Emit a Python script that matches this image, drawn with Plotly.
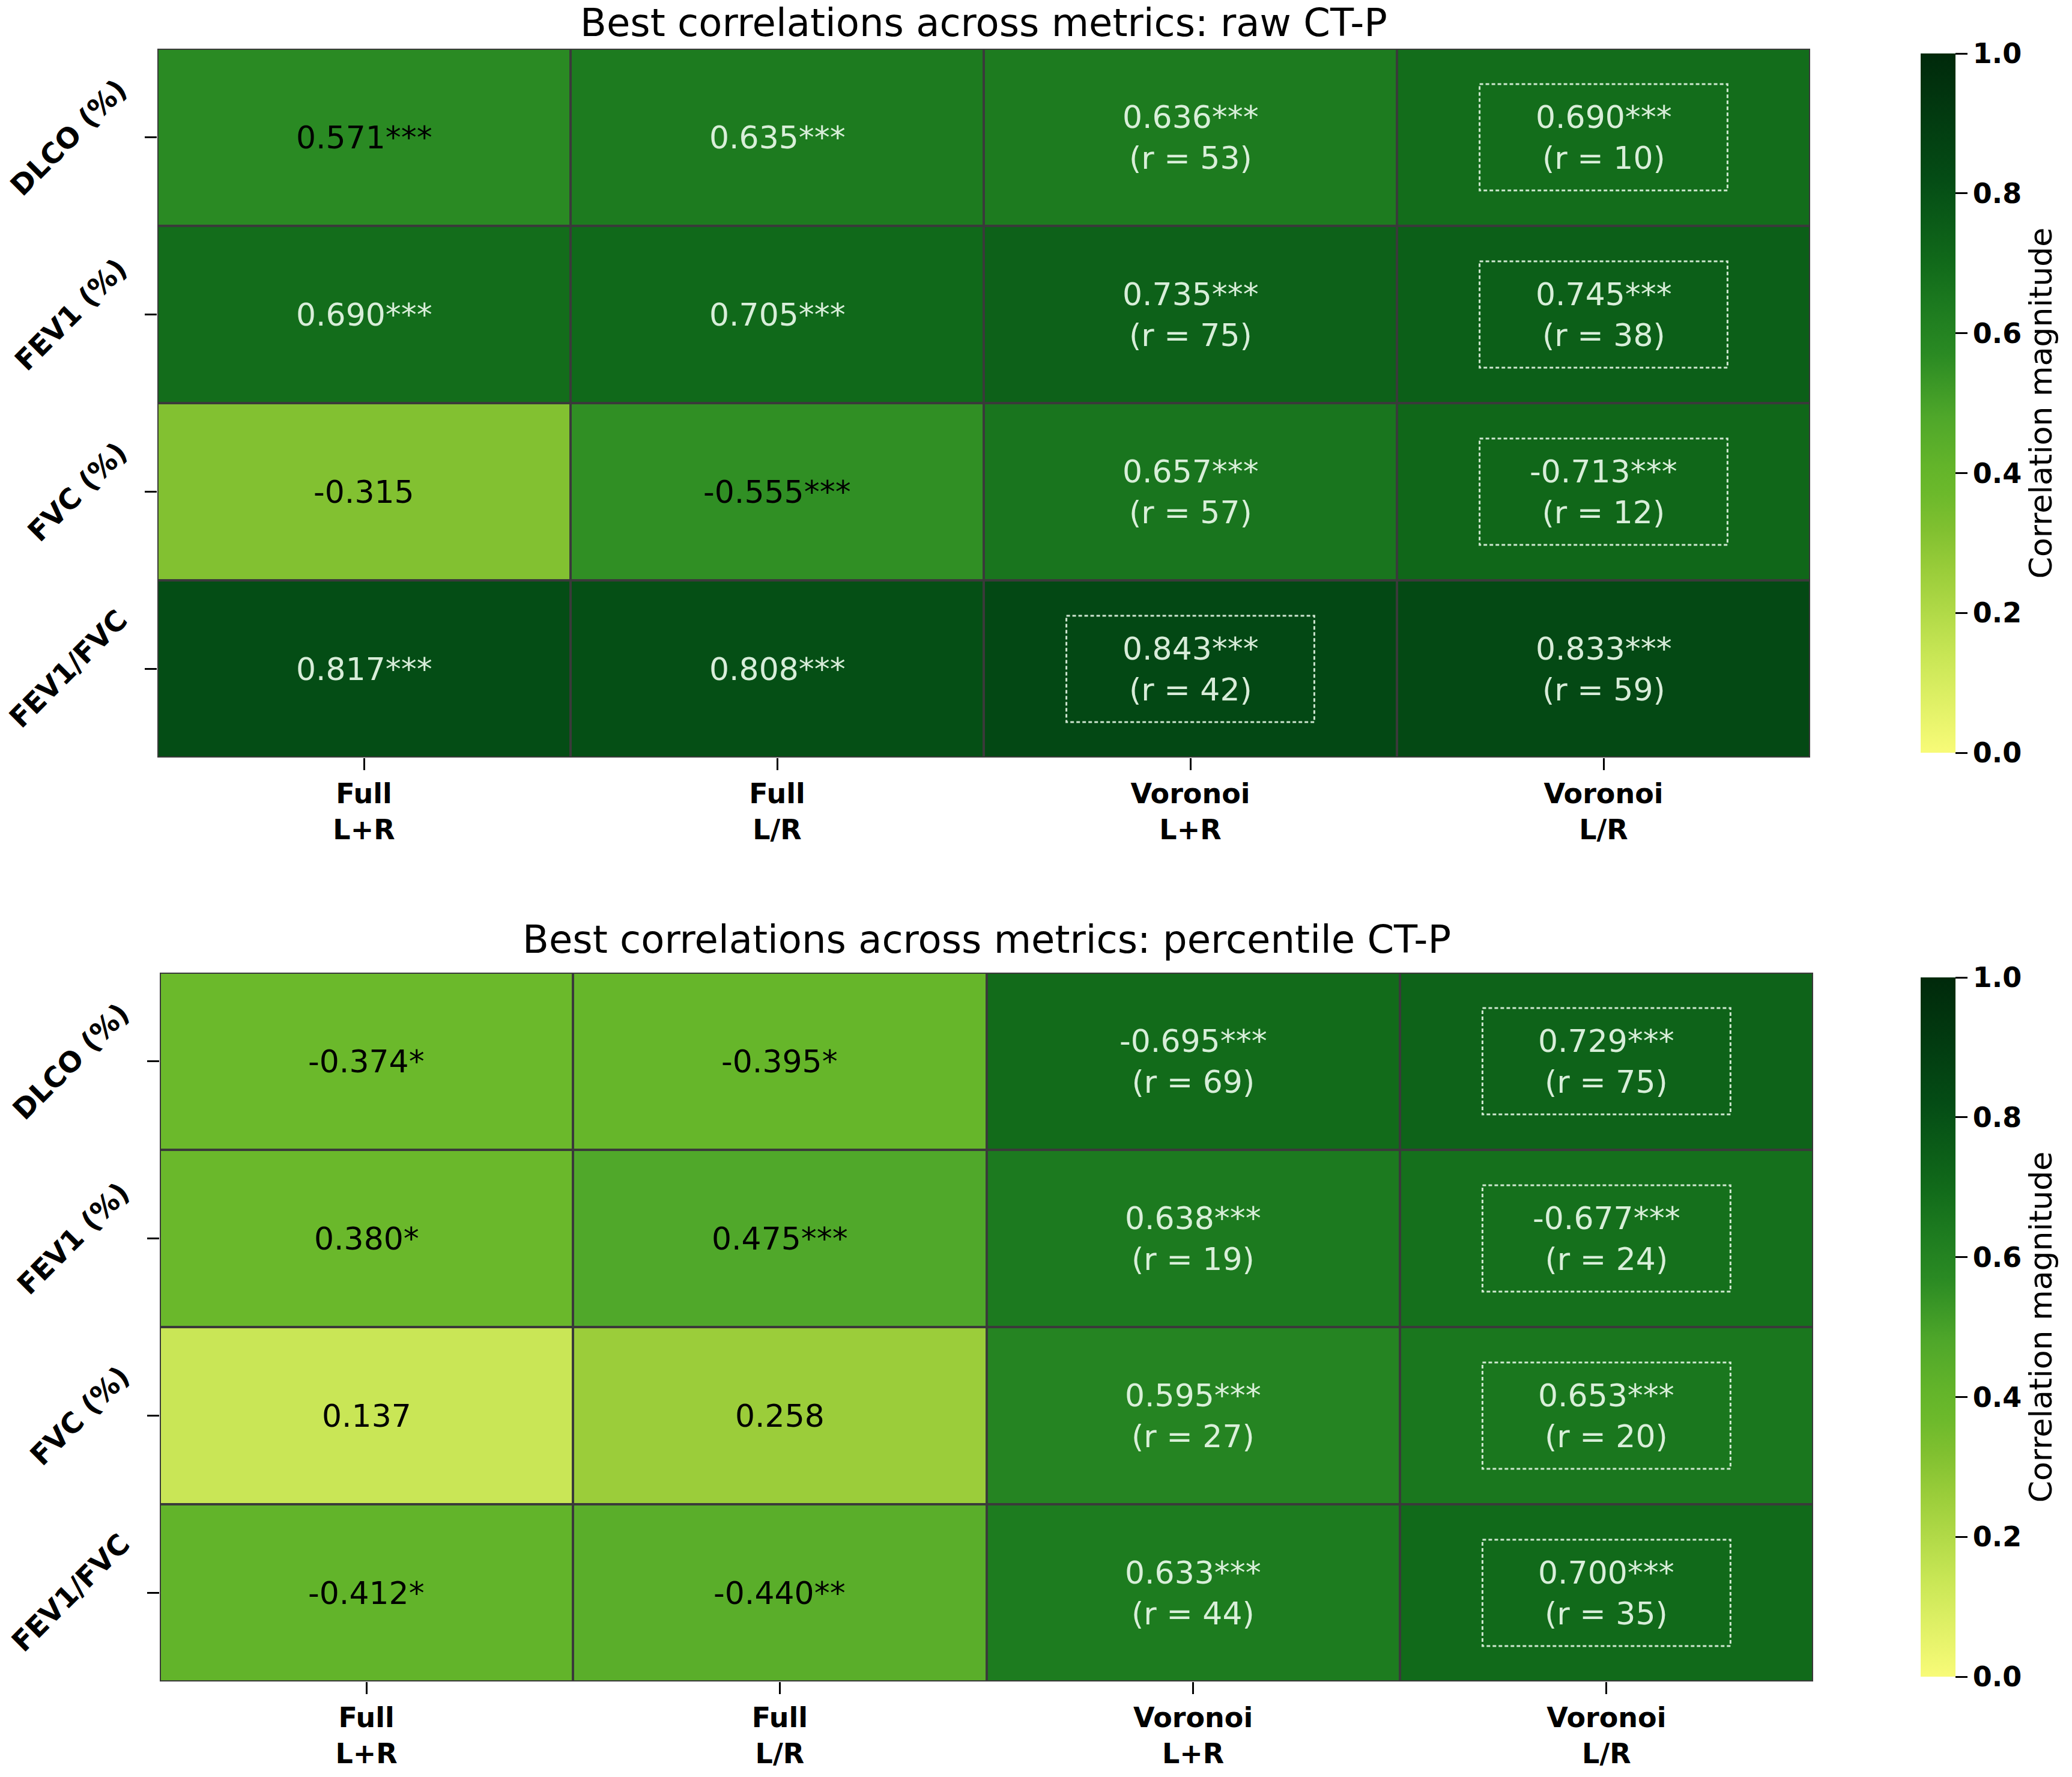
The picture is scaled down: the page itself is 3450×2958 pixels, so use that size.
import plotly.graph_objects as go

# ---------------- data ----------------
col_labels = ["Full<br>L+R", "Full<br>L/R", "Voronoi<br>L+R", "Voronoi<br>L/R"]
row_labels = ["DLCO (%)", "FEV1 (%)", "FVC (%)", "FEV1/FVC"]

raw_title = "Best correlations across metrics: raw CT-P"
raw_vals = [[0.571, 0.635, 0.636, 0.690],
            [0.690, 0.705, 0.735, 0.745],
            [-0.315, -0.555, 0.657, -0.713],
            [0.817, 0.808, 0.843, 0.833]]
raw_stars = [["***", "***", "***", "***"],
             ["***", "***", "***", "***"],
             ["", "***", "***", "***"],
             ["***", "***", "***", "***"]]
raw_r = [[None, None, 53, 10],
         [None, None, 75, 38],
         [None, None, 57, 12],
         [None, None, 42, 59]]

pct_title = "Best correlations across metrics: percentile CT-P"
pct_vals = [[-0.374, -0.395, -0.695, 0.729],
            [0.380, 0.475, 0.638, -0.677],
            [0.137, 0.258, 0.595, 0.653],
            [-0.412, -0.440, 0.633, 0.700]]
pct_stars = [["*", "*", "***", "***"],
             ["*", "***", "***", "***"],
             ["", "", "***", "***"],
             ["*", "**", "***", "***"]]
pct_r = [[None, None, 69, 75],
         [None, None, 19, 24],
         [None, None, 27, 20],
         [None, None, 44, 35]]

cbar_title = "Correlation magnitude"

# ---------------- style ----------------
W, H = 3450, 2958
FONT = "DejaVu Sans"
colorscale = [
    [0.00, "#f8fb78"], [0.14, "#c8e655"], [0.26, "#9acd3a"], [0.32, "#80c030"],
    [0.37, "#6cb92b"], [0.41, "#63b42a"], [0.48, "#4fa72a"], [0.57, "#2a8a23"],
    [0.64, "#1c7a1f"], [0.70, "#116a1a"], [0.82, "#044c15"], [1.00, "#00290b"],
]
DARK_TXT = "#000000"
LIGHT_TXT = "rgba(228,245,228,0.95)"

panels = [
    dict(vals=raw_vals, stars=raw_stars, r=raw_r, title=raw_title,
         xd=[262 / W, 3014 / W], top=81, bot=1261, title_y=None, lab_x=222),
    dict(vals=pct_vals, stars=pct_stars, r=pct_r, title=pct_title,
         xd=[266 / W, 3019 / W], top=1619, bot=2799, title_y=1564, lab_x=226),
]

fig = go.Figure()
annotations = []
shapes = []

for i, p in enumerate(panels):
    xa = "x" if i == 0 else "x2"
    ya = "y" if i == 0 else "y2"
    z = [[abs(v) for v in row] for row in p["vals"]]
    yd = [1 - p["bot"] / H, 1 - p["top"] / H]
    cb_len = (p["bot"] - p["top"] + 4) / H
    cb_y = 1 - (p["top"] + p["bot"]) / 2 / H
    fig.add_trace(go.Heatmap(
        z=z, x=[0, 1, 2, 3], y=[0, 1, 2, 3], xaxis=xa, yaxis=ya,
        zmin=0, zmax=1, colorscale=colorscale, xgap=4, ygap=4,
        hoverinfo="skip",
        colorbar=dict(
            x=3188 / W, xanchor="left", y=cb_y, yanchor="middle",
            len=cb_len, lenmode="fraction", thickness=58, thicknessmode="pixels",
            outlinewidth=0, ticks="outside", ticklen=20, tickwidth=3,
            tickcolor="black", tickvals=[0, 0.2, 0.4, 0.6, 0.8, 1.0],
            ticktext=["0.0", "0.2", "0.4", "0.6", "0.8", "1.0"],
            tickfont=dict(family=FONT, size=46, color="black", weight="bold"),
            title=dict(text=cbar_title, side="right",
                       font=dict(family=FONT, size=52, color="black")),
        ),
    ))
    axis_x = dict(domain=p["xd"], range=[-0.5, 3.5], tickvals=[0, 1, 2, 3],
                  ticktext=col_labels, ticks="outside", ticklen=20, tickwidth=3,
                  tickcolor="black", showgrid=False, zeroline=False, automargin=False,
                  tickfont=dict(family=FONT, size=46, color="black", weight="bold"),
                  anchor=ya)
    axis_y = dict(domain=yd, range=[3.5, -0.5], tickvals=[0, 1, 2, 3],
                  ticktext=["", "", "", ""], ticks="outside", ticklen=20, tickwidth=3,
                  tickcolor="black", showgrid=False, zeroline=False, automargin=False,
                  anchor=xa)
    if i == 0:
        fig.update_layout(xaxis=axis_x, yaxis=axis_y)
    else:
        fig.update_layout(xaxis2=axis_x, yaxis2=axis_y)

    # rotated row labels (right edge near tick, vertically centred)
    for ri, lab in enumerate(row_labels):
        annotations.append(dict(
            x=p["lab_x"] / W, y=ri, xref="paper", yref=ya, text=f"<b>{lab}</b>",
            showarrow=False, textangle=-45, xanchor="right", yanchor="middle",
            borderpad=0, borderwidth=0,
            font=dict(family=FONT, size=47, color="black")))

    # cell texts
    for ri, row in enumerate(p["vals"]):
        for ci, v in enumerate(row):
            txt = f"{v:.3f}{p['stars'][ri][ci]}"
            if p["r"][ri][ci] is not None:
                txt += f"<br>(r = {p['r'][ri][ci]})"
            color = DARK_TXT if abs(v) < 0.58 else LIGHT_TXT
            annotations.append(dict(
                x=ci, y=ri, xref=xa, yref=ya, text=txt, showarrow=False,
                font=dict(family=FONT, size=52, color=color),
                xanchor="center", yanchor="middle", align="center"))
        # dashed box around best |r| in row
        best = max(range(4), key=lambda c: abs(row[c]))
        shapes.append(dict(
            type="rect", xref=xa, yref=ya,
            x0=best - 0.3, x1=best + 0.3, y0=ri - 0.3, y1=ri + 0.3,
            line=dict(color="rgba(228,245,228,0.9)", width=3, dash="6px,4px"),
            fillcolor="rgba(0,0,0,0)"))

    title_ann = dict(
        x=(p["xd"][0] + p["xd"][1]) / 2, xref="paper", yref="paper",
        text=p["title"], showarrow=False, xanchor="center",
        font=dict(family=FONT, size=64, color="black"))
    if p["title_y"] is None:
        title_ann.update(y=1, yanchor="top", borderpad=0)
    else:
        title_ann.update(y=1 - p["title_y"] / H, yanchor="middle")
    annotations.append(title_ann)

fig.update_layout(
    width=W, height=H, margin=dict(l=0, r=0, t=0, b=0),
    paper_bgcolor="white", plot_bgcolor="#3a3a3a",
    annotations=annotations, shapes=shapes, showlegend=False,
)

fig.write_html("out.html")
